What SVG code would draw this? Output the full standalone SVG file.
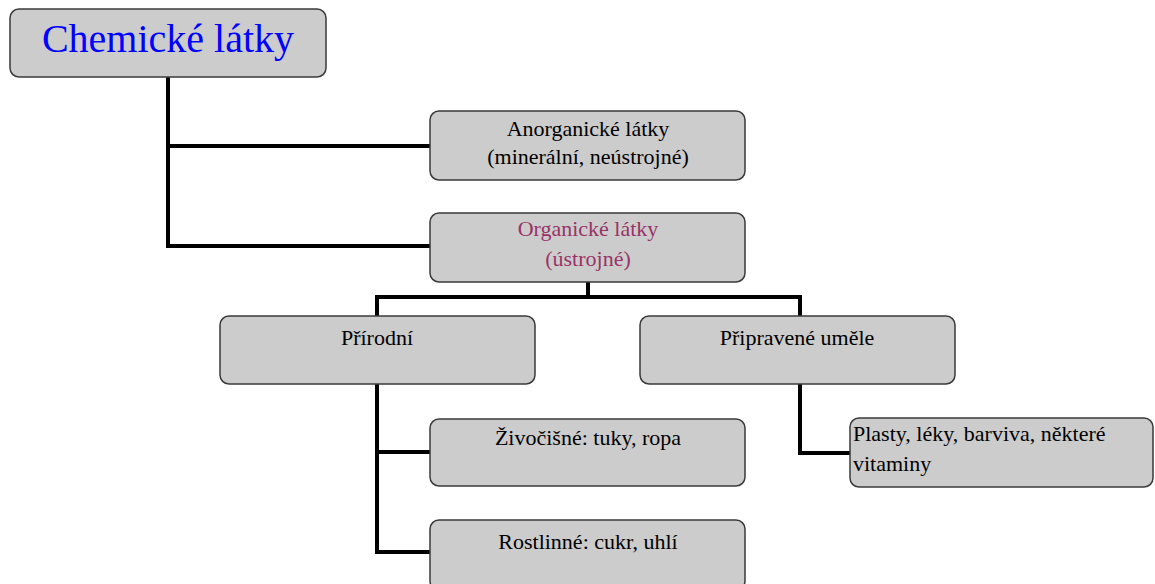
<svg xmlns="http://www.w3.org/2000/svg" width="1155" height="584" viewBox="0 0 1155 584">
<style>
.box{fill:#cccccc;stroke:#3a3a3a;stroke-width:1.5}
.t{font-family:"Liberation Serif","Times New Roman",serif;font-size:22px;fill:#000;text-anchor:middle}
.c{fill:none;stroke:#000;stroke-width:4}
</style>
<rect width="1155" height="584" fill="#fff"/>
<g id="connectors">
<path class="c" d="M168 77 V246 H431 M168 146 H431"/>
<path class="c" d="M588 282 V297 M377 316 V297 H800 V316"/>
<path class="c" d="M377 384 V552 H431 M377 452 H431"/>
<path class="c" d="M800 384 V453 H851"/>
</g>
<g id="root">
<rect class="box" x="10" y="9" width="316" height="68" rx="9"/>
<text class="t" x="168" y="52" style="font-size:40px;fill:#0000ff">Chemické látky</text>
</g>
<g id="anorganicke">
<rect class="box" x="430" y="111" width="315" height="69" rx="9"/>
<text class="t" x="588" y="136">Anorganické látky</text>
<text class="t" x="588" y="164">(minerální, neústrojné)</text>
</g>
<g id="organicke">
<rect class="box" x="430" y="213" width="315" height="69" rx="9"/>
<text class="t" x="588" y="236" style="fill:#993366">Organické látky</text>
<text class="t" x="588" y="266" style="fill:#993366">(ústrojné)</text>
</g>
<g id="prirodni">
<rect class="box" x="220" y="316" width="315" height="68" rx="9"/>
<text class="t" x="377" y="345">Přírodní</text>
</g>
<g id="pripravene">
<rect class="box" x="640" y="316" width="315" height="68" rx="9"/>
<text class="t" x="797" y="345">Připravené uměle</text>
</g>
<g id="zivocisne">
<rect class="box" x="430" y="419" width="315" height="67" rx="9"/>
<text class="t" x="588" y="445">Živočišné: tuky, ropa</text>
</g>
<g id="rostlinne">
<rect class="box" x="430" y="520" width="315" height="70" rx="9"/>
<text class="t" x="588" y="549">Rostlinné: cukr, uhlí</text>
</g>
<g id="plasty">
<rect class="box" x="850" y="418" width="303" height="69" rx="9"/>
<text class="t" x="853" y="441" style="text-anchor:start">Plasty, léky, barviva, některé</text>
<text class="t" x="853" y="471" style="text-anchor:start">vitaminy</text>
</g>
</svg>
